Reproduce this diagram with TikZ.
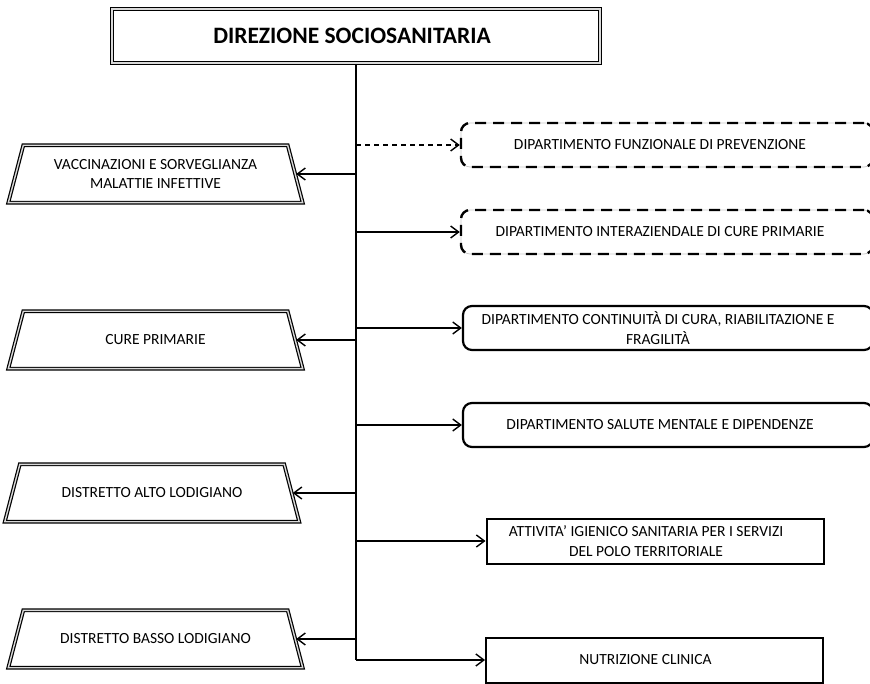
\documentclass[tikz,border=0pt]{standalone}
\usepackage{fontspec}
\setmainfont{Carlito}
\usetikzlibrary{arrows.meta}
\begin{document}
\begin{tikzpicture}[x=1pt,y=-1pt,
  txt/.style={font=\fontsize{15.5}{19.5}\selectfont, align=center, inner sep=0pt},
  headbox/.style={draw, line width=1.6pt, double=gray!30, double distance=1.6pt,
    minimum width=488pt, minimum height=54pt, inner sep=0pt, fill=white},
  unitbox/.style={minimum width=294pt, minimum height=57pt, inner sep=0pt, txt},
  unitframe/.style={draw, line width=1.2pt, double=gray!30, double distance=1.4pt,
    line join=miter},
  deptdash/.style={draw, rounded corners=9pt, line width=2.4pt,
    dash pattern=on 11pt off 7pt,
    preaction={draw=gray!45, line width=0.7pt, solid},
    minimum width=412pt, minimum height=44pt},
  deptsolid/.style={draw, rounded corners=9pt, line width=2.2pt,
    minimum width=410pt, minimum height=44pt},
  plainbox/.style={draw, line width=2pt, minimum width=337pt, minimum height=45pt},
  trunk/.style={line width=1.8pt},
  link/.style={line width=1.6pt, -{Straight Barb[length=8pt,width=12pt,line width=1.4pt]}},
  dlink/.style={link, line width=1.3pt, dash pattern=on 5pt off 4pt},
]
\clip (0,0) rectangle (870,684);

% head of the structure
\node[headbox] (head) at (356,36) {};
\node[font=\bfseries\fontsize{23.5}{28}\selectfont, inner sep=0pt]
  at ([xshift=-4pt]head.center) {DIREZIONE SOCIOSANITARIA};

% units on the left (trapezoid frames drawn around the text nodes)
\node[unitbox] (u1) at (155.5,174) {VACCINAZIONI E SORVEGLIANZA\\MALATTIE INFETTIVE};
\node[unitbox] (u2) at (155.5,340) {CURE PRIMARIE};
\node[unitbox] (u3) at (152,493) {DISTRETTO ALTO LODIGIANO};
\node[unitbox] (u4) at (155.5,639) {DISTRETTO BASSO LODIGIANO};
\foreach \u in {u1,u2,u3,u4}{
  \draw[unitframe] (\u.south west) -- ([xshift=15pt]\u.north west)
    -- ([xshift=-15pt]\u.north east) -- (\u.south east) -- cycle;
  \coordinate (\u-in) at ([xshift=-6.5pt]\u.east);
}

% departments on the right
\node[deptdash] (d1) at (667,145) {};
\node[txt] at ([xshift=-7pt]d1.center) {DIPARTIMENTO FUNZIONALE DI PREVENZIONE};
\node[deptdash] (d2) at (667,232) {};
\node[txt] at ([xshift=-7pt]d2.center) {DIPARTIMENTO INTERAZIENDALE DI CURE PRIMARIE};
\node[deptsolid] (d3) at (668,328) {};
\node[txt] at ([xshift=-10pt]d3.center) {DIPARTIMENTO CONTINUITÀ DI CURA, RIABILITAZIONE E\\FRAGILITÀ};
\node[deptsolid] (d4) at (668,425) {};
\node[txt] at ([xshift=-8pt]d4.center) {DIPARTIMENTO SALUTE MENTALE E DIPENDENZE};
\node[plainbox] (d5) at (655,541) {};
\node[txt] at ([xshift=-9pt]d5.center) {ATTIVITA’ IGIENICO SANITARIA PER I SERVIZI\\DEL POLO TERRITORIALE};
\node[plainbox] (d6) at (654.5,660) {};
\node[txt] at ([xshift=-9pt]d6.center) {NUTRIZIONE CLINICA};

% main trunk
\coordinate (trunkend) at (head.south |- d6.west);
\draw[trunk] (head.south) -- (trunkend);

% branches
\draw[link] (trunkend |- u1-in) -- (u1-in);
\draw[link] (trunkend |- u2-in) -- (u2-in);
\draw[link] (trunkend |- u3-in) -- (u3-in);
\draw[link] (trunkend |- u4-in) -- (u4-in);
\draw[dlink] (trunkend |- d1.west) -- (d1.west);
\draw[link] (trunkend |- d2.west) -- (d2.west);
\draw[link] (trunkend |- d3.west) -- (d3.west);
\draw[link] (trunkend |- d4.west) -- (d4.west);
\draw[link] (trunkend |- d5.west) -- (d5.west);
\draw[link] (trunkend) -- (d6.west);
\end{tikzpicture}
\end{document}
